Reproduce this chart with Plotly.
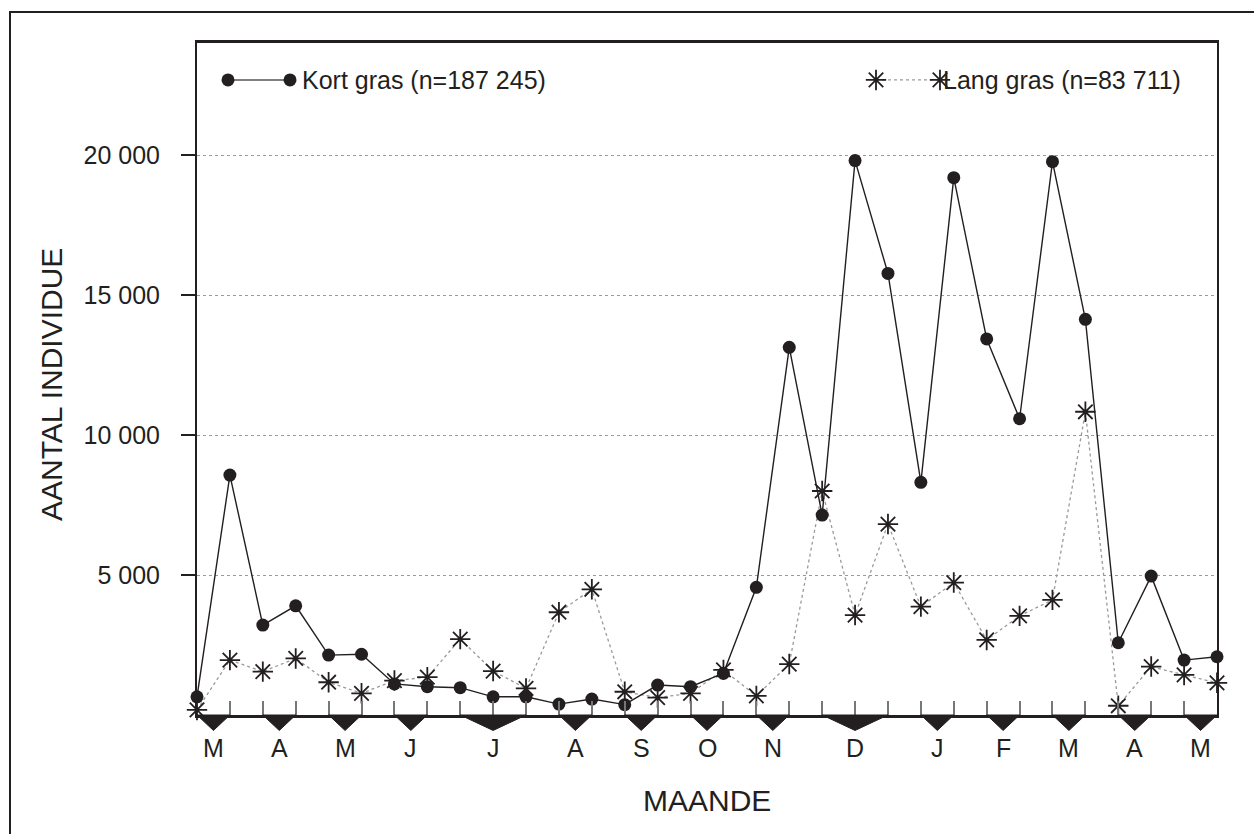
import plotly.graph_objects as go

# ---- data ----
sample_idx = list(range(32))
kort_gras = [650, 8570, 3210, 3900, 2140, 2170, 1110, 1010, 975, 650, 650, 390, 570, 370,
             1070, 1010, 1490, 4560, 13130, 7140, 19800, 15770, 8310, 19190, 13430, 10580,
             19760, 14130, 2580, 4960, 1960, 2080]
lang_gras = [180, 1960, 1550, 2020, 1170, 775, 1230, 1350, 2710, 1570, 950, 3670, 4490, 830,
             620, 775, 1610, 680, 1820, 8000, 3570, 6820, 3870, 4730, 2680, 3540, 4110, 10830,
             330, 1730, 1430, 1150]
month_labels = ['M', 'A', 'M', 'J', 'J', 'A', 'S', 'O', 'N', 'D', 'J', 'F', 'M', 'A', 'M']
month_start = [0, 2, 4, 6, 8, 11, 13, 15, 17, 19, 22, 24, 26, 28, 30]
month_end = [1, 3, 5, 7, 10, 12, 14, 16, 18, 21, 23, 25, 27, 29, 31]
y_tickvals = [5000, 10000, 15000, 20000]
y_ticktext = ['5 000', '10 000', '15 000', '20 000']
kort_name = 'Kort gras (n=187 245)'
lang_name = 'Lang gras (n=83 711)'

FONT = 'Liberation Sans, Arial, sans-serif'
TXT = '#231f20'

STAR = dict(symbol='asterisk-open', size=17, color=TXT, line=dict(color=TXT, width=1.8))

fig = go.Figure()

fig.add_trace(go.Scatter(
    x=sample_idx, y=lang_gras, mode='lines+markers', cliponaxis=False,
    line=dict(color='#9a9a9a', width=1.3, dash='dot'),
    marker=STAR, showlegend=False))
fig.add_trace(go.Scatter(
    x=sample_idx, y=kort_gras, mode='lines+markers', cliponaxis=False,
    line=dict(color=TXT, width=1.4),
    marker=dict(symbol='circle', size=13, color=TXT),
    showlegend=False))

# legend samples on an overlay axis (0..1 in plot area)
fig.add_trace(go.Scatter(
    x=[0.0304, 0.0912], y=[0.945, 0.945], xaxis='x2', yaxis='y2', mode='lines+markers',
    cliponaxis=False, line=dict(color='#555', width=1.4),
    marker=dict(symbol='circle', size=13, color=TXT), showlegend=False, hoverinfo='skip'))
fig.add_trace(go.Scatter(
    x=[0.6657, 0.7284], y=[0.945, 0.945], xaxis='x2', yaxis='y2', mode='lines+markers',
    cliponaxis=False, line=dict(color='#9a9a9a', width=1.3, dash='dot'),
    marker=STAR, showlegend=False, hoverinfo='skip'))

shapes = []
# month triangles under the x axis
for s, e in zip(month_start, month_end):
    m = (s + e) / 2
    shapes.append(dict(type='path', xref='x', yref='paper',
                       path=f'M {s},0 L {e},0 L {m},-0.023 Z',
                       fillcolor=TXT, line=dict(color=TXT, width=1)))
# outer frame
shapes.append(dict(type='rect', xref='paper', yref='paper',
                   x0=(10 - 197) / 1020, x1=1.5, y0=-1.0, y1=(715 - 12) / 672,
                   line=dict(color=TXT, width=2), fillcolor='rgba(0,0,0,0)', layer='below'))

annotations = []
for s, e, lab in zip(month_start, month_end, month_labels):
    annotations.append(dict(x=(s + e) / 2, y=-(748 - 715) / 672, xref='x', yref='paper',
                            text=lab, showarrow=False, xanchor='center', yanchor='middle',
                            font=dict(family=FONT, size=25, color=TXT)))
annotations.append(dict(x=0.5, y=-(800 - 715) / 672, xref='paper', yref='paper',
                        text='MAANDE', showarrow=False, xanchor='center', yanchor='middle',
                        font=dict(family=FONT, size=30, color=TXT)))
annotations.append(dict(x=(51 - 197) / 1020, y=(715 - 385) / 672, xref='paper', yref='paper',
                        text='AANTAL INDIVIDUE', showarrow=False, textangle=-90,
                        xanchor='center', yanchor='middle',
                        font=dict(family=FONT, size=30, color=TXT)))
annotations.append(dict(x=0.101, y=0.945, xref='paper', yref='paper', text=kort_name,
                        showarrow=False, xanchor='left', yanchor='middle',
                        font=dict(family=FONT, size=25, color=TXT)))
annotations.append(dict(x=0.729, y=0.945, xref='paper', yref='paper', text=lang_name,
                        showarrow=False, xanchor='left', yanchor='middle',
                        font=dict(family=FONT, size=25, color=TXT)))

fig.update_layout(
    width=1254, height=834,
    margin=dict(l=197, r=37, t=43, b=119),
    paper_bgcolor='white', plot_bgcolor='white',
    showlegend=False,
    shapes=shapes, annotations=annotations,
    xaxis=dict(range=[0, 31], showline=True, linecolor=TXT, linewidth=2.5, mirror=True,
               ticks='inside', tickvals=sample_idx, ticklen=14, tickcolor='#777',
               tickwidth=1.5, showticklabels=False, showgrid=False, zeroline=False,
               fixedrange=True),
    yaxis=dict(range=[0, 24000], showline=True, linecolor=TXT, linewidth=2, mirror=True,
               ticks='outside', ticklen=14, tickcolor=TXT, tickwidth=1.5,
               tickvals=y_tickvals, ticktext=y_ticktext, ticklabelstandoff=16,
               tickfont=dict(family=FONT, size=25, color=TXT),
               showgrid=True, gridcolor='#9a9a9a', griddash='dot', gridwidth=1,
               zeroline=False, fixedrange=True),
    xaxis2=dict(domain=[0, 1], range=[0, 1], overlaying='x', anchor='y2', visible=False,
                fixedrange=True),
    yaxis2=dict(domain=[0, 1], range=[0, 1], overlaying='y', anchor='x2', visible=False,
                fixedrange=True),
)

fig.write_html('out.html')
